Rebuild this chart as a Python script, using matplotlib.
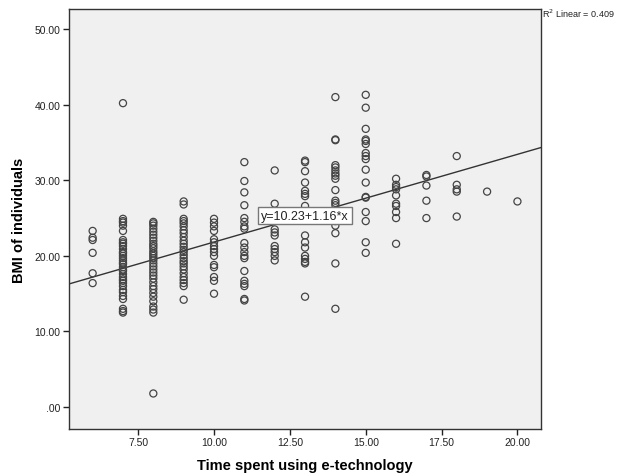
import matplotlib
matplotlib.use("Agg")
import matplotlib.pyplot as plt
import numpy as np

plt.rcParams['font.family'] = ['Liberation Sans', 'DejaVu Sans']

# Time spent (hours) -> BMI values
bmi_6 = [23.3, 22.4, 22.1, 20.4, 17.7, 16.4]
bmi_7 = [40.2, 24.9, 24.6, 24.4, 24.0, 23.3, 22.1, 21.8, 21.6, 21.3, 20.9, 20.5, 20.3,
         20.0, 19.7, 19.4, 19.1, 18.9, 18.5, 18.2, 18.0, 17.6, 17.2, 16.9, 16.7, 16.4,
         16.0, 15.5, 15.2, 14.7, 14.3, 13.0, 12.7, 12.5]
bmi_8 = [24.5, 24.3, 24.0, 23.6, 23.2, 22.8, 22.4, 22.0, 21.6, 21.3, 21.0, 20.6, 20.3,
         20.0, 19.7, 19.4, 19.0, 18.6, 18.2, 17.8, 17.4, 17.0, 16.5, 16.0, 15.6, 15.1,
         14.6, 14.0, 13.3, 12.9, 12.5, 1.8]
bmi_9 = [27.2, 26.8, 24.9, 24.6, 24.3, 23.9, 23.4, 23.0, 22.5, 22.0, 21.6, 21.2, 20.8,
         20.5, 20.1, 19.7, 19.3, 19.0, 18.6, 18.2, 17.7, 17.2, 16.8, 16.4, 16.0, 14.2]
bmi_10 = [24.9, 24.4, 23.9, 23.3, 22.2, 21.8, 21.3, 20.9, 20.5, 20.0, 18.8, 18.5, 17.2,
          16.7, 15.0]
bmi_11 = [32.4, 29.9, 28.4, 26.7, 25.0, 24.5, 23.9, 23.6, 21.7, 21.1, 20.5, 20.0, 19.7,
          18.0, 16.7, 16.3, 16.0, 14.3, 14.1]
bmi_12 = [31.3, 26.9, 25.3, 23.5, 23.1, 22.7, 21.3, 20.9, 20.5, 20.0, 19.4]
bmi_13 = [32.6, 32.4, 31.2, 29.7, 28.6, 28.2, 27.9, 26.6, 22.7, 21.8, 21.1, 20.0, 19.6,
          19.2, 19.0, 14.6]
bmi_14 = [41.0, 35.4, 35.3, 32.0, 31.7, 31.3, 30.9, 30.6, 30.2, 28.7, 27.3, 27.0, 26.7,
          24.6, 24.0, 23.0, 19.0, 13.0]
bmi_15 = [41.3, 39.6, 36.8, 35.4, 35.2, 34.8, 33.6, 33.2, 32.8, 31.4, 29.7, 27.7, 27.8,
          25.8, 24.6, 21.8, 20.4]
bmi_16 = [30.2, 29.4, 29.1, 28.8, 28.0, 26.9, 26.6, 25.8, 25.0, 21.6]
bmi_17 = [30.7, 30.5, 29.3, 27.3, 25.0]
bmi_18 = [33.2, 29.4, 28.8, 28.5, 25.2]
bmi_19 = [28.5]
bmi_20 = [27.2]

hours = [6, 7, 8, 9, 10, 11, 12, 13, 14, 15, 16, 17, 18, 19, 20]
bmi_groups = [bmi_6, bmi_7, bmi_8, bmi_9, bmi_10, bmi_11, bmi_12, bmi_13, bmi_14,
              bmi_15, bmi_16, bmi_17, bmi_18, bmi_19, bmi_20]

intercept = 10.23
slope = 1.16
r2_text = "R$^2$ Linear = 0.409"
eq_text = "y=10.23+1.16*x"

x_ticks = [7.5, 10.0, 12.5, 15.0, 17.5, 20.0]
x_ticklabels = ["7.50", "10.00", "12.50", "15.00", "17.50", "20.00"]
y_ticks = [0, 10, 20, 30, 40, 50]
y_ticklabels = [".00", "10.00", "20.00", "30.00", "40.00", "50.00"]

xs = np.concatenate([[h] * len(g) for h, g in zip(hours, bmi_groups)])
ys = np.concatenate(bmi_groups)

fig = plt.figure(figsize=(6.27, 4.77), dpi=100)
ax = fig.add_axes([0.110, 0.0985, 0.753, 0.8805])
ax.set_facecolor('#F0F0F0')

ax.scatter(xs, ys, s=26, facecolors='none', edgecolors='#444444', linewidths=0.9, zorder=3)

xmin, xmax = 5.22, 20.78
lx = np.array([xmin, xmax])
ax.plot(lx, intercept + slope * lx, color='#333333', lw=1.0, zorder=2)
ax.set_xlim(xmin, xmax)
ax.set_ylim(-2.9, 52.65)

ax.text(13.0, intercept + slope * 13.0, eq_text, ha='center', va='center', fontsize=9,
        color='#222222', zorder=5,
        bbox=dict(boxstyle='square,pad=0.22', facecolor='white', edgecolor='#777777', lw=1.0))

ax.set_xticks(x_ticks)
ax.set_xticklabels(x_ticklabels)
ax.set_yticks(y_ticks)
ax.set_yticklabels(y_ticklabels)
ax.tick_params(direction='out', length=4, width=1, labelsize=7.5, colors='#222222', pad=2)
for s in ax.spines.values():
    s.set_color('#333333')
    s.set_linewidth(1.0)

ax.set_xlabel("Time spent using e-technology", fontsize=10.5, fontweight='bold', labelpad=8)
ax.set_ylabel("BMI of individuals", fontsize=10.5, fontweight='bold', labelpad=6)

fig.text(0.865, 0.972, r2_text, fontsize=6.5, ha='left', va='center', color='#222222')

fig.savefig("out.png", dpi=100, facecolor='white')
